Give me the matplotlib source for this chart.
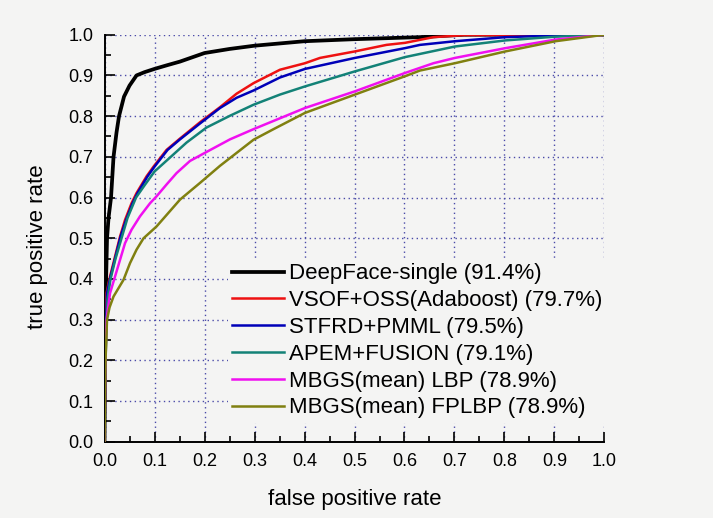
import matplotlib

matplotlib.use("Agg")
import matplotlib.pyplot as plt
from matplotlib.ticker import FormatStrFormatter, MultipleLocator

plt.rcParams["font.family"] = ["Liberation Sans", "DejaVu Sans"]

# ROC curves (false positive rate, true positive rate)
deepface_fpr = [0, 0.001, 0.002, 0.003, 0.005, 0.008, 0.013, 0.018, 0.024, 0.029, 0.039, 0.050,
                0.064, 0.080, 0.100, 0.125, 0.151, 0.200, 0.250, 0.300, 0.400, 0.500, 0.630, 0.720, 1.0]
deepface_tpr = [0, 0.20, 0.30, 0.39, 0.50, 0.55, 0.60, 0.70, 0.76, 0.80, 0.848, 0.875,
                0.900, 0.908, 0.916, 0.925, 0.934, 0.955, 0.965, 0.973, 0.984, 0.989, 0.994, 1.0, 1.0]

vsof_fpr = [0, 0.001, 0.002, 0.004, 0.011, 0.021, 0.031, 0.041, 0.054, 0.064, 0.084, 0.098, 0.124,
            0.151, 0.191, 0.231, 0.264, 0.298, 0.351, 0.401, 0.431, 0.501, 0.564, 0.601, 0.658, 0.720, 1.0]
vsof_tpr = [0, 0.15, 0.25, 0.365, 0.406, 0.455, 0.504, 0.545, 0.586, 0.611, 0.652, 0.676, 0.717,
            0.745, 0.785, 0.822, 0.855, 0.881, 0.914, 0.930, 0.943, 0.959, 0.975, 0.980, 0.994, 0.999, 1.0]

stfrd_fpr = [0, 0.001, 0.002, 0.005, 0.012, 0.022, 0.032, 0.043, 0.056, 0.066, 0.086, 0.100, 0.126,
             0.151, 0.191, 0.231, 0.264, 0.298, 0.351, 0.401, 0.501, 0.601, 0.631, 0.701, 0.802, 0.900, 0.950, 1.0]
stfrd_tpr = [0, 0.15, 0.25, 0.365, 0.406, 0.455, 0.504, 0.545, 0.586, 0.611, 0.652, 0.676, 0.717,
             0.743, 0.782, 0.820, 0.845, 0.863, 0.895, 0.916, 0.943, 0.967, 0.975, 0.984, 0.994, 0.998, 1.0, 1.0]

apem_fpr = [0, 0.001, 0.003, 0.006, 0.012, 0.022, 0.034, 0.046, 0.063, 0.080, 0.100, 0.137, 0.164,
            0.204, 0.251, 0.298, 0.351, 0.401, 0.501, 0.601, 0.701, 0.802, 0.900, 1.0]
apem_tpr = [0, 0.15, 0.25, 0.35, 0.40, 0.45, 0.50, 0.55, 0.60, 0.63, 0.664, 0.705, 0.735,
            0.772, 0.801, 0.828, 0.853, 0.873, 0.910, 0.945, 0.971, 0.986, 0.995, 1.0]

lbp_fpr = [0, 0.001, 0.002, 0.004, 0.011, 0.021, 0.031, 0.041, 0.054, 0.071, 0.091, 0.104, 0.124,
           0.144, 0.171, 0.204, 0.251, 0.298, 0.401, 0.501, 0.601, 0.658, 0.701, 0.802, 0.902, 1.0]
lbp_tpr = [0, 0.15, 0.22, 0.30, 0.365, 0.406, 0.447, 0.488, 0.521, 0.554, 0.586, 0.603, 0.632,
           0.660, 0.690, 0.712, 0.743, 0.768, 0.820, 0.861, 0.906, 0.930, 0.943, 0.967, 0.988, 1.0]

fplbp_fpr = [0, 0.001, 0.002, 0.005, 0.010, 0.018, 0.038, 0.051, 0.064, 0.078, 0.104, 0.151, 0.191,
             0.231, 0.298, 0.338, 0.401, 0.501, 0.601, 0.631, 0.701, 0.802, 0.902, 1.0]
fplbp_tpr = [0, 0.12, 0.20, 0.30, 0.33, 0.357, 0.398, 0.439, 0.472, 0.500, 0.529, 0.595, 0.636,
             0.678, 0.742, 0.768, 0.808, 0.853, 0.898, 0.912, 0.930, 0.959, 0.984, 1.0]

labels = [
    "DeepFace-single (91.4%)",
    "VSOF+OSS(Adaboost) (79.7%)",
    "STFRD+PMML (79.5%)",
    "APEM+FUSION (79.1%)",
    "MBGS(mean) LBP (78.9%)",
    "MBGS(mean) FPLBP (78.9%)",
]
curves = [
    (deepface_fpr, deepface_tpr),
    (vsof_fpr, vsof_tpr),
    (stfrd_fpr, stfrd_tpr),
    (apem_fpr, apem_tpr),
    (lbp_fpr, lbp_tpr),
    (fplbp_fpr, fplbp_tpr),
]
colors = ["#000000", "#ee1111", "#0000b8", "#138277", "#f010f0", "#808010"]
widths = [2.7, 1.8, 1.8, 1.8, 1.8, 1.8]

bg = "#f4f4f3"
fig = plt.figure(figsize=(7.13, 5.18), dpi=100, facecolor=bg)
ax = fig.add_axes([0.1466, 0.147, 0.7012, 0.786], facecolor=bg)

for (x, y), label, color, lw in zip(curves, labels, colors, widths):
    ax.plot(x, y, color=color, linewidth=lw, label=label, zorder=3)

ax.set_xlim(0, 1.0)
ax.set_ylim(0, 1.0)
for axis in (ax.xaxis, ax.yaxis):
    axis.set_major_locator(MultipleLocator(0.1))
    axis.set_minor_locator(MultipleLocator(0.05))
    axis.set_major_formatter(FormatStrFormatter("%.1f"))
ax.tick_params(which="both", direction="in", width=1.2, labelsize=13, top=False, right=False)
ax.tick_params(which="major", length=7, pad=8)
ax.tick_params(which="minor", length=4)

ax.spines["top"].set_visible(False)
ax.spines["right"].set_visible(False)
ax.spines["left"].set_linewidth(1.4)
ax.spines["bottom"].set_linewidth(1.4)

ax.grid(True, which="major", linestyle=(0, (1, 2.5)), color="#4a4aa8", linewidth=1.0, zorder=1)
ax.set_axisbelow(True)
fig.canvas.draw()
for gl in (ax.xaxis.get_gridlines()[-1], ax.yaxis.get_gridlines()[-1]):
    gl.set_visible(False)

ax.set_xlabel("false positive rate", fontsize=16, labelpad=14)
ax.set_ylabel("true positive rate", fontsize=16)
ax.yaxis.set_label_coords(-0.113, 0.48)

leg = ax.legend(
    loc="upper left",
    bbox_to_anchor=(0.247, 0.449),
    borderaxespad=0,
    fontsize=16,
    frameon=True,
    fancybox=False,
    facecolor=bg,
    edgecolor="none",
    framealpha=1.0,
    handlelength=2.3,
    handletextpad=0.25,
    labelspacing=0.26,
    borderpad=0.2,
)
leg.set_zorder(4)

fig.savefig("out.png", dpi=100, facecolor=bg)
